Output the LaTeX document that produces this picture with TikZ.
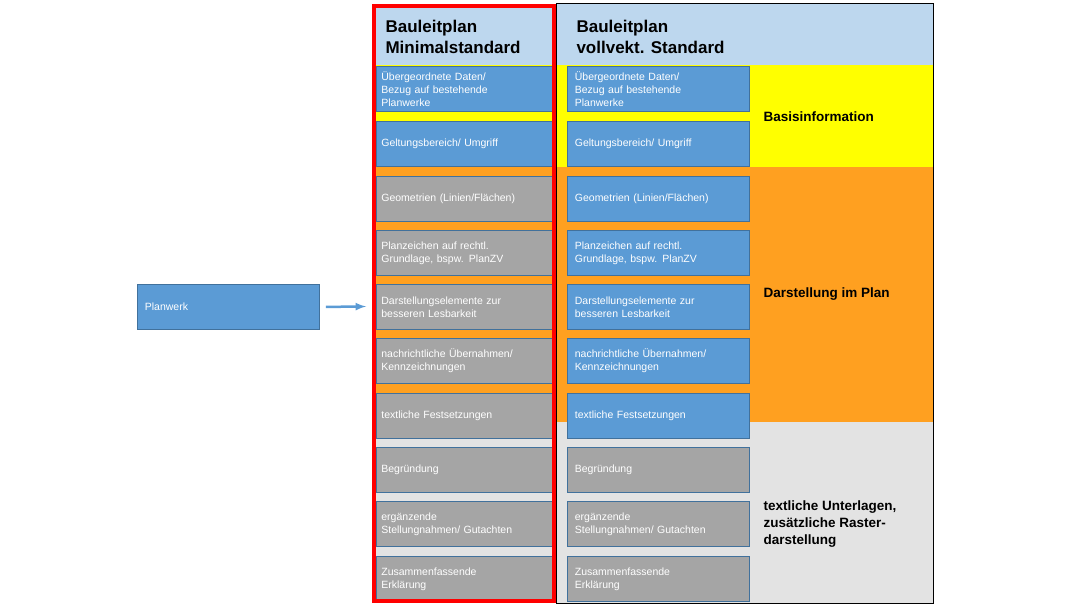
\documentclass[tikz,border=0pt]{standalone}
\usepackage{fontspec}
\setmainfont{Liberation Sans}
\begin{document}
\begin{tikzpicture}[x=1pt,y=-1pt,
 bx/.style={draw=bord,line width=0.8pt,minimum width=177pt,minimum height=45pt,text width=167pt,align=left,anchor=north west,inner sep=0pt,text=white,font=\fontsize{10.5}{13}\selectfont},
 blu/.style={bx,fill=bblue},gry/.style={bx,fill=bgray},
 lab/.style={font=\bfseries\fontsize{13.5}{17}\selectfont,align=left,anchor=west}]
\definecolor{bblue}{HTML}{5B9BD5}\definecolor{bgray}{HTML}{A5A5A5}\definecolor{bord}{HTML}{41719C}
\definecolor{hdr}{HTML}{BDD7EE}\definecolor{yel}{HTML}{FFFF00}\definecolor{ora}{HTML}{FFA020}\definecolor{lgr}{HTML}{E3E3E3}
\useasboundingbox (0,0) rectangle (1080,607);
\fill[hdr] (372,4) rectangle (933,65);
\fill[yel] (372,65) rectangle (933,167);
\fill[ora] (372,167) rectangle (933,422);
\fill[lgr] (372,422) rectangle (933,603);
\draw[line width=1pt] (556,4) rectangle (933,603);
\node[font=\bfseries\fontsize{17}{21}\selectfont,align=left,anchor=west] (h1) at (382,37) {Bauleitplan\\Minimalstandard};
\node[font=\bfseries\fontsize{17}{21}\selectfont,align=left,anchor=west] (h2) at (573,37) {Bauleitplan\\vollvekt. Standard};
\foreach \y/\t [count=\i] in {66/{Übergeordnete Daten/\\Bezug auf bestehende\\Planwerke},121/{Geltungsbereich/ Umgriff},176/{Geometrien (Linien/Flächen)},230/{Planzeichen auf rechtl.\\Grundlage, bspw. PlanZV},284/{Darstellungselemente zur\\besseren Lesbarkeit},338/{nachrichtliche Übernahmen/\\Kennzeichnungen},393/{textliche Festsetzungen},447/{Begründung},501/{ergänzende\\Stellungnahmen/ Gutachten},556/{Zusammenfassende\\Erklärung}}{
 \ifnum\i<3 \node[blu] (l\i) at (376,\y) {\t};\else \node[gry] (l\i) at (376,\y) {\t};\fi
 \ifnum\i<8 \node[blu,minimum width=182pt] (r\i) at (567,\y) {\t};\else \node[gry,minimum width=182pt] (r\i) at (567,\y) {\t};\fi
}
\draw[red,line width=4pt] (374,6) rectangle (554,601);
\node[lab] (b1) at (760,117) {Basisinformation};
\node[lab] (b2) at (760,294) {Darstellung im Plan};
\node[lab] (b3) at (760,524) {textliche Unterlagen,\\zusätzliche Raster-\\darstellung};
\node[blu,minimum width=182pt] (pw) at (137,284) {Planwerk};
\coordinate (ae) at (366,306.5);
\draw[-latex,bblue,line width=2.5pt] ([xshift=6pt]pw.east) -- (ae);
\end{tikzpicture}
\end{document}
